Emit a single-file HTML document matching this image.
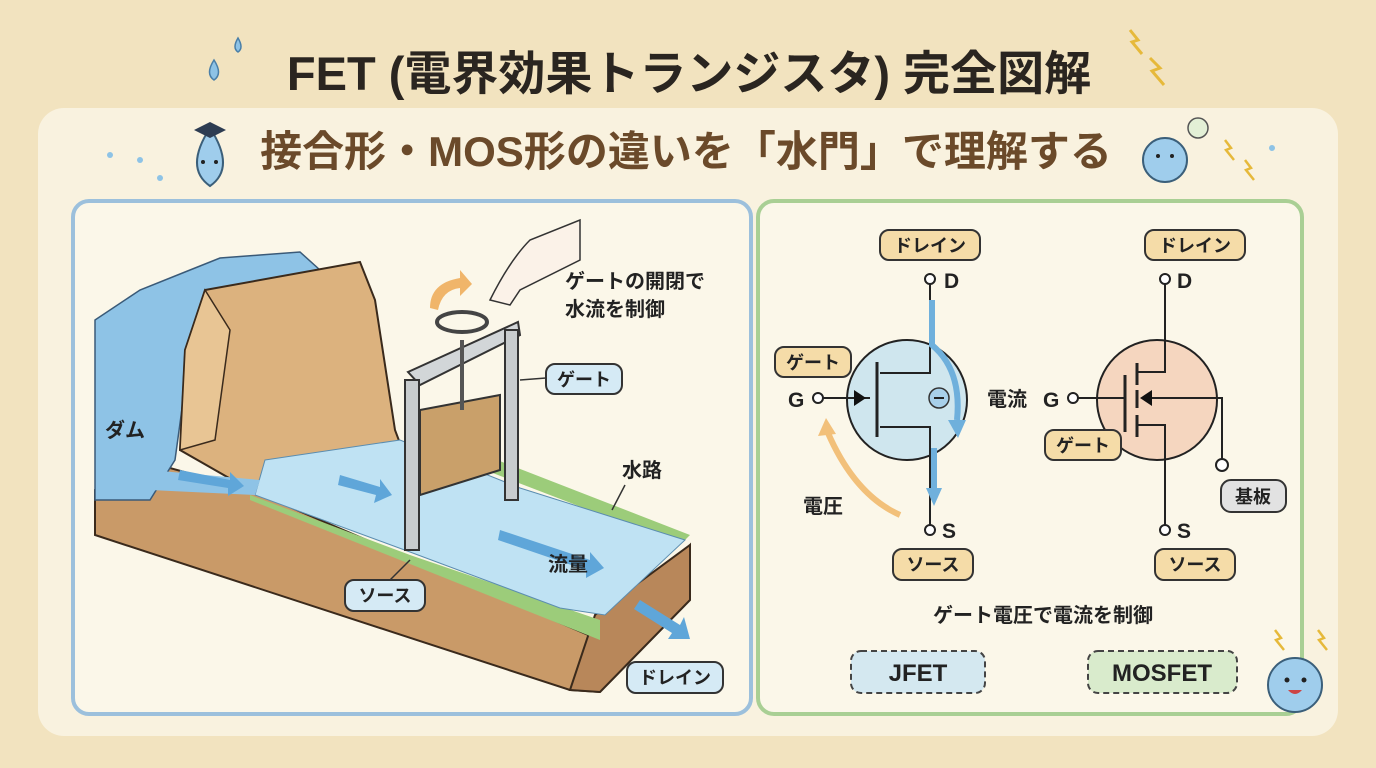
<!DOCTYPE html>
<html><head><meta charset="utf-8"><style>
body{margin:0;width:1376px;height:768px;overflow:hidden;background:#f3e4c0;}
svg{display:block}
text{font-family:"Liberation Sans","Noto Sans CJK JP",sans-serif;font-weight:bold;}
</style></head><body>
<svg width="1376" height="768" viewBox="0 0 1376 768">
<rect width="1376" height="768" fill="#f2e3bf"/>
<text x="689" y="90" text-anchor="middle" font-size="47" fill="#2a2520">FET (電界効果トランジスタ) 完全図解</text>
<path d="M238 38 q-6 10 0 14 q6 -4 0 -14z M214 60 q-9 14 0 20 q9 -6 0 -20z" fill="#8ec3e6" stroke="#4a7fa8" stroke-width="1.5"/>
<path d="M1130 30 l8 10 -6 2 10 12 M1150 58 l10 10 -8 3 12 14" stroke="#e6b93a" stroke-width="3" fill="none"/>
<rect x="38" y="108" width="1300" height="628" rx="26" fill="#f9f2df"/>
<text x="686" y="166" text-anchor="middle" font-size="42" fill="#6b4a2a">接合形・MOS形の違いを「水門」で理解する</text>
<g><path d="M210 128 q-26 40 0 58 q26 -18 0 -58z" fill="#9fcdec" stroke="#3b5f7a" stroke-width="2"/>
<circle cx="203" cy="162" r="2" fill="#222"/><circle cx="216" cy="162" r="2" fill="#222"/>
<path d="M194 130 l16 -8 16 8 -16 8z" fill="#2d3c52"/>
<circle cx="140" cy="160" r="3" fill="#8ec3e6"/><circle cx="110" cy="155" r="3" fill="#8ec3e6"/><circle cx="160" cy="178" r="3" fill="#8ec3e6"/></g>
<g><circle cx="1165" cy="160" r="22" fill="#9fcdec" stroke="#3b5f7a" stroke-width="2"/>
<circle cx="1158" cy="156" r="2" fill="#222"/><circle cx="1172" cy="156" r="2" fill="#222"/>
<circle cx="1198" cy="128" r="10" fill="#e3f0d6" stroke="#555" stroke-width="1.5"/>
<path d="M1225 140 l6 8 -5 2 8 10 M1245 160 l6 8 -5 2 8 10" stroke="#e6b93a" stroke-width="2.5" fill="none"/>
<circle cx="1272" cy="148" r="3" fill="#8ec3e6"/></g>

<rect x="73" y="201" width="678" height="513" rx="16" fill="#fbf7e9" stroke="#9cc0dc" stroke-width="4"/>
<path d="M95 490 L170 468 L250 490 L600 640 L690 545 L690 600 L600 692 L570 690 L95 535z" fill="#c99a68" stroke="#3a2a1c" stroke-width="2"/>
<path d="M570 690 L595 615 L690 545 L690 600 L600 692z" fill="#b8875a" stroke="#3a2a1c" stroke-width="2"/>
<path d="M95 320 L140 290 L190 270 L220 258 L260 255 L300 252 L320 270 L215 320 L190 350 L175 460 L150 500 L95 500z" fill="#8ec3e6" stroke="#3a5a78" stroke-width="1.5"/>
<path d="M180 450 L185 350 L205 290 L360 262 L375 300 L395 430 L410 470 L270 470 L250 490z" fill="#dcb27e" stroke="#3a2a1c" stroke-width="2"/>
<path d="M185 350 L205 290 L230 330 L215 440 L180 450z" fill="#e8c594" stroke="#3a2a1c" stroke-width="1.5"/>
<path d="M250 495 L410 555 L600 620 L600 640 L250 500z" fill="#9ccc7a"/>
<path d="M420 430 L690 535 L680 545 L420 445z" fill="#9ccc7a"/>
<path d="M265 460 L400 440 L520 488 L685 540 L605 615 L560 608 L410 552 L255 495z" fill="#bfe2f3" stroke="#5b8db0" stroke-width="1"/>
<path d="M150 470 L260 480 L255 495 L150 490z" fill="#8ec3e6"/>
<g fill="#5fa6d9"><path d="M180 470 l50 10 0 -8 14 14 -16 10 0 -8 -50 -8z"/><path d="M340 475 l40 12 0 -8 12 16 -18 8 2 -8 -38 -10z"/><path d="M500 530 l90 30 0 -8 14 16 -18 10 0 -8 -88 -30z"/><path d="M640 600 l40 25 4 -8 6 22 -22 0 4 -6 -38 -24z"/></g>
<path d="M408 372 L518 322 L520 335 L420 385z" fill="#d2d6d8" stroke="#333" stroke-width="2"/>
<rect x="405" y="380" width="14" height="170" fill="#c8ccce" stroke="#333" stroke-width="2"/>
<rect x="505" y="330" width="13" height="170" fill="#c8ccce" stroke="#333" stroke-width="2"/>
<path d="M420 410 L500 395 L500 470 L420 495z" fill="#c9a06a" stroke="#333" stroke-width="2"/>
<line x1="462" y1="340" x2="462" y2="410" stroke="#555" stroke-width="4"/>
<ellipse cx="462" cy="322" rx="25" ry="10" fill="none" stroke="#444" stroke-width="4"/>
<path d="M490 300 q20 -40 40 -60 l50 -20 0 40 -60 30 -10 15z" fill="#fbf2e8" stroke="#333" stroke-width="1.5"/>
<path d="M430 308 q0 -25 30 -30 l0 -8 12 14 -12 12 0 -8 q-18 2 -22 22z" fill="#f0b56a"/>
<text x="565" y="288" font-size="20" fill="#222">ゲートの開閉で</text>
<text x="565" y="316" font-size="20" fill="#222">水流を制御</text>
<text x="105" y="437" font-size="20" fill="#222">ダム</text>
<text x="622" y="477" font-size="20" fill="#222">水路</text>
<text x="548" y="571" font-size="20" fill="#222">流量</text>
<line x1="520" y1="380" x2="546" y2="378" stroke="#333" stroke-width="1.5"/>
<line x1="410" y1="560" x2="385" y2="585" stroke="#333" stroke-width="1.5"/>
<line x1="625" y1="485" x2="612" y2="510" stroke="#333" stroke-width="1.5"/>
<g font-size="18" fill="#222" text-anchor="middle">
<rect x="546" y="364" width="76" height="30" rx="9" fill="#d5eaf5" stroke="#333" stroke-width="2"/><text x="584" y="386">ゲート</text>
<rect x="345" y="580" width="80" height="31" rx="9" fill="#d5eaf5" stroke="#333" stroke-width="2"/><text x="385" y="602">ソース</text>
<rect x="627" y="662" width="96" height="31" rx="9" fill="#d5eaf5" stroke="#333" stroke-width="2"/><text x="675" y="684">ドレイン</text>
</g>

<rect x="758" y="201" width="544" height="513" rx="16" fill="#fbf7e9" stroke="#a9cf94" stroke-width="4"/>
<g stroke="#222" stroke-width="2" fill="none">
<circle cx="907" cy="400" r="60" fill="#cfe6ee"/>
<circle cx="1157" cy="400" r="60" fill="#f5d6bf"/>
<polyline points="930,284 930,373 880,373"/><line x1="877" y1="362" x2="877" y2="437" stroke-width="3"/>
<polyline points="880,427 930,427 930,525"/><line x1="823" y1="398" x2="870" y2="398"/>
<circle cx="930" cy="279" r="5" fill="#fff"/><circle cx="930" cy="530" r="5" fill="#fff"/><circle cx="818" cy="398" r="5" fill="#fff"/>
<polyline points="1165,284 1165,372 1137,372"/><line x1="1125" y1="375" x2="1125" y2="432" stroke-width="3"/>
<line x1="1137" y1="363" x2="1137" y2="385" stroke-width="3"/><line x1="1137" y1="390" x2="1137" y2="408" stroke-width="3"/><line x1="1137" y1="415" x2="1137" y2="437" stroke-width="3"/>
<polyline points="1137,425 1165,425 1165,525"/><line x1="1078" y1="398" x2="1125" y2="398"/>
<polyline points="1150,398 1222,398 1222,460"/>
<circle cx="1165" cy="279" r="5" fill="#fff"/><circle cx="1165" cy="530" r="5" fill="#fff"/><circle cx="1073" cy="398" r="5" fill="#fff"/><circle cx="1222" cy="465" r="6" fill="#fff"/>
</g>
<path d="M866 398 l-12 -8 0 16z" fill="#111"/><path d="M1140 398 l12 -8 0 16z" fill="#111"/>
<path d="M932 300 L932 345 q30 25 25 75" stroke="#6fb0dc" stroke-width="6" fill="none"/><path d="M948 420 l10 18 8 -18z" fill="#6fb0dc"/>
<path d="M934 448 L934 490" stroke="#6fb0dc" stroke-width="6"/><path d="M926 488 l8 18 8 -18z" fill="#6fb0dc"/>
<circle cx="939" cy="398" r="10" fill="#a8d0ea" stroke="#333" stroke-width="1.5"/><line x1="934" y1="398" x2="944" y2="398" stroke="#222" stroke-width="2"/>
<path d="M900 515 q-45 -20 -72 -82" stroke="#f2c07a" stroke-width="6" fill="none"/><path d="M818 436 l8 -18 10 16z" fill="#f2c07a"/>
<g font-size="21" fill="#222"><text x="944" y="288">D</text><text x="942" y="538">S</text><text x="788" y="407">G</text><text x="1177" y="288">D</text><text x="1177" y="538">S</text><text x="1043" y="407">G</text></g>
<g font-size="20" fill="#222"><text x="987" y="406">電流</text><text x="803" y="513">電圧</text></g>
<g font-size="18" fill="#222" text-anchor="middle">
<rect x="880" y="230" width="100" height="30" rx="9" fill="#f5dca8" stroke="#333" stroke-width="2"/><text x="930" y="252">ドレイン</text>
<rect x="775" y="347" width="76" height="30" rx="9" fill="#f5dca8" stroke="#333" stroke-width="2"/><text x="813" y="369">ゲート</text>
<rect x="893" y="549" width="80" height="31" rx="9" fill="#f5dca8" stroke="#333" stroke-width="2"/><text x="933" y="571">ソース</text>
<rect x="1145" y="230" width="100" height="30" rx="9" fill="#f5dca8" stroke="#333" stroke-width="2"/><text x="1195" y="252">ドレイン</text>
<rect x="1045" y="430" width="76" height="30" rx="9" fill="#f5dca8" stroke="#333" stroke-width="2"/><text x="1083" y="452">ゲート</text>
<rect x="1155" y="549" width="80" height="31" rx="9" fill="#f5dca8" stroke="#333" stroke-width="2"/><text x="1195" y="571">ソース</text>
<rect x="1221" y="480" width="65" height="32" rx="10" fill="#e2e2e2" stroke="#333" stroke-width="2"/><text x="1253" y="503">基板</text>
</g>
<text x="1043" y="622" text-anchor="middle" font-size="20" fill="#222">ゲート電圧で電流を制御</text>
<rect x="851" y="651" width="134" height="42" rx="10" fill="#d4e8f0" stroke="#444" stroke-width="2" stroke-dasharray="6 4"/>
<text x="918" y="681" text-anchor="middle" font-size="24" fill="#222">JFET</text>
<rect x="1088" y="651" width="149" height="42" rx="10" fill="#d9ebcc" stroke="#444" stroke-width="2" stroke-dasharray="6 4"/>
<text x="1162" y="681" text-anchor="middle" font-size="24" fill="#222">MOSFET</text>
<circle cx="1295" cy="685" r="27" fill="#9fcdec" stroke="#3b5f7a" stroke-width="2"/>
<circle cx="1287" cy="680" r="2.5" fill="#222"/><circle cx="1304" cy="680" r="2.5" fill="#222"/>
<path d="M1288 690 q7 8 14 0z" fill="#c44"/>
<path d="M1275 630 l6 8 -5 2 8 10 M1318 630 l6 8 -5 2 8 10" stroke="#e6b93a" stroke-width="2.5" fill="none"/>
</svg>
</body></html>
